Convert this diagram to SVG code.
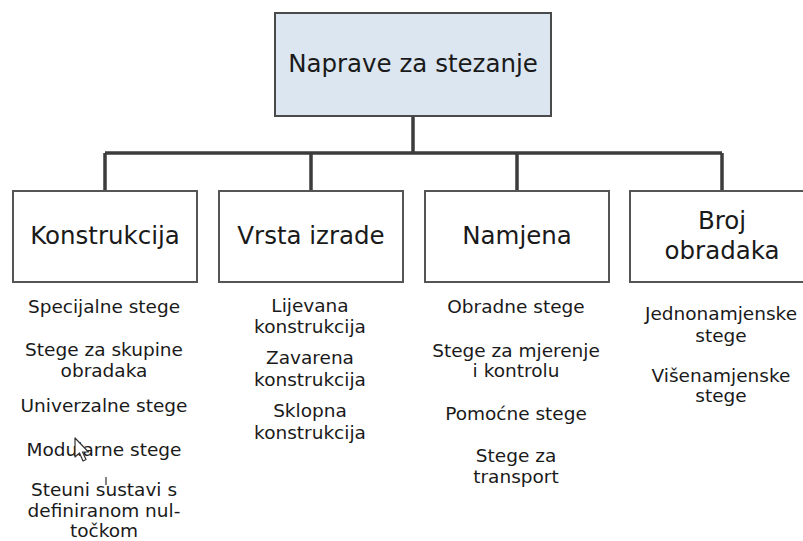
<svg xmlns="http://www.w3.org/2000/svg" width="803" height="541" viewBox="0 0 803 541">
<style>
.bg{fill:#ffffff}
.root{fill:#dce6f0;stroke:#4a4a4a;stroke-width:2}
.box{fill:#ffffff;stroke:#555555;stroke-width:2}
.conn{fill:none;stroke:#3c3c3c;stroke-width:3.5}
.h{font-family:"DejaVu Sans","Liberation Sans",sans-serif;font-size:24.5px;fill:#1a1a1a;text-anchor:middle}
.t{font-family:"DejaVu Sans","Liberation Sans",sans-serif;font-size:18.5px;fill:#1a1a1a;text-anchor:middle}
</style>
<rect class="bg" x="0" y="0" width="803" height="541"/>
<g id="connectors">
<path class="conn" d="M413 116 V153 M105 153 H722 M105 153 V191 M311 153 V191 M517 153 V191 M722 153 V191"/>
</g>
<g id="root">
<rect class="root" x="275" y="13" width="276" height="103"/>
<text class="h" x="413" y="72">Naprave za stezanje</text>
</g>
<g id="konstrukcija">
<rect class="box" x="13" y="191" width="184" height="91"/>
<text class="h" x="105" y="244">Konstrukcija</text>
</g>
<g id="vrsta">
<rect class="box" x="219" y="191" width="184" height="91"/>
<text class="h" x="311" y="244">Vrsta izrade</text>
</g>
<g id="namjena">
<rect class="box" x="425" y="191" width="184" height="91"/>
<text class="h" x="517" y="244">Namjena</text>
</g>
<g id="broj">
<rect class="box" x="630" y="191" width="184" height="91"/>
<text class="h" x="722" y="229">Broj</text>
<text class="h" x="722" y="259">obradaka</text>
</g>
<g id="list-konstrukcija">
<text class="t" x="104" y="313">Specijalne stege</text>
<text class="t" x="104" y="356">Stege za skupine</text>
<text class="t" x="104" y="377">obradaka</text>
<text class="t" x="104" y="412">Univerzalne stege</text>
<text class="t" x="104" y="456">Modularne stege</text>
<text class="t" x="104" y="496">Steuni sustavi s</text>
<text class="t" x="104" y="517">definiranom nul-</text>
<text class="t" x="104" y="537">točkom</text>
</g>
<g id="list-vrsta">
<text class="t" x="310" y="312">Lijevana</text>
<text class="t" x="310" y="333">konstrukcija</text>
<text class="t" x="310" y="364">Zavarena</text>
<text class="t" x="310" y="386">konstrukcija</text>
<text class="t" x="310" y="417">Sklopna</text>
<text class="t" x="310" y="439">konstrukcija</text>
</g>
<g id="list-namjena">
<text class="t" x="516" y="313">Obradne stege</text>
<text class="t" x="516" y="357">Stege za mjerenje</text>
<text class="t" x="516" y="377">i kontrolu</text>
<text class="t" x="516" y="420">Pomoćne stege</text>
<text class="t" x="516" y="462">Stege za</text>
<text class="t" x="516" y="483">transport</text>
</g>
<g id="list-broj">
<text class="t" x="721" y="320">Jednonamjenske</text>
<text class="t" x="721" y="342">stege</text>
<text class="t" x="721" y="382">Višenamjenske</text>
<text class="t" x="721" y="402">stege</text>
</g>
<g id="cursor">
<path d="M75 438 L75 457 L79.5 453 L83 461 L86 459.5 L82.5 452 L88.5 452 Z" fill="#ffffff" stroke="#333333" stroke-width="1.2" stroke-linejoin="round"/>
<path d="M106 477 V485" stroke="#333333" stroke-width="1.2"/>
</g>
</svg>
